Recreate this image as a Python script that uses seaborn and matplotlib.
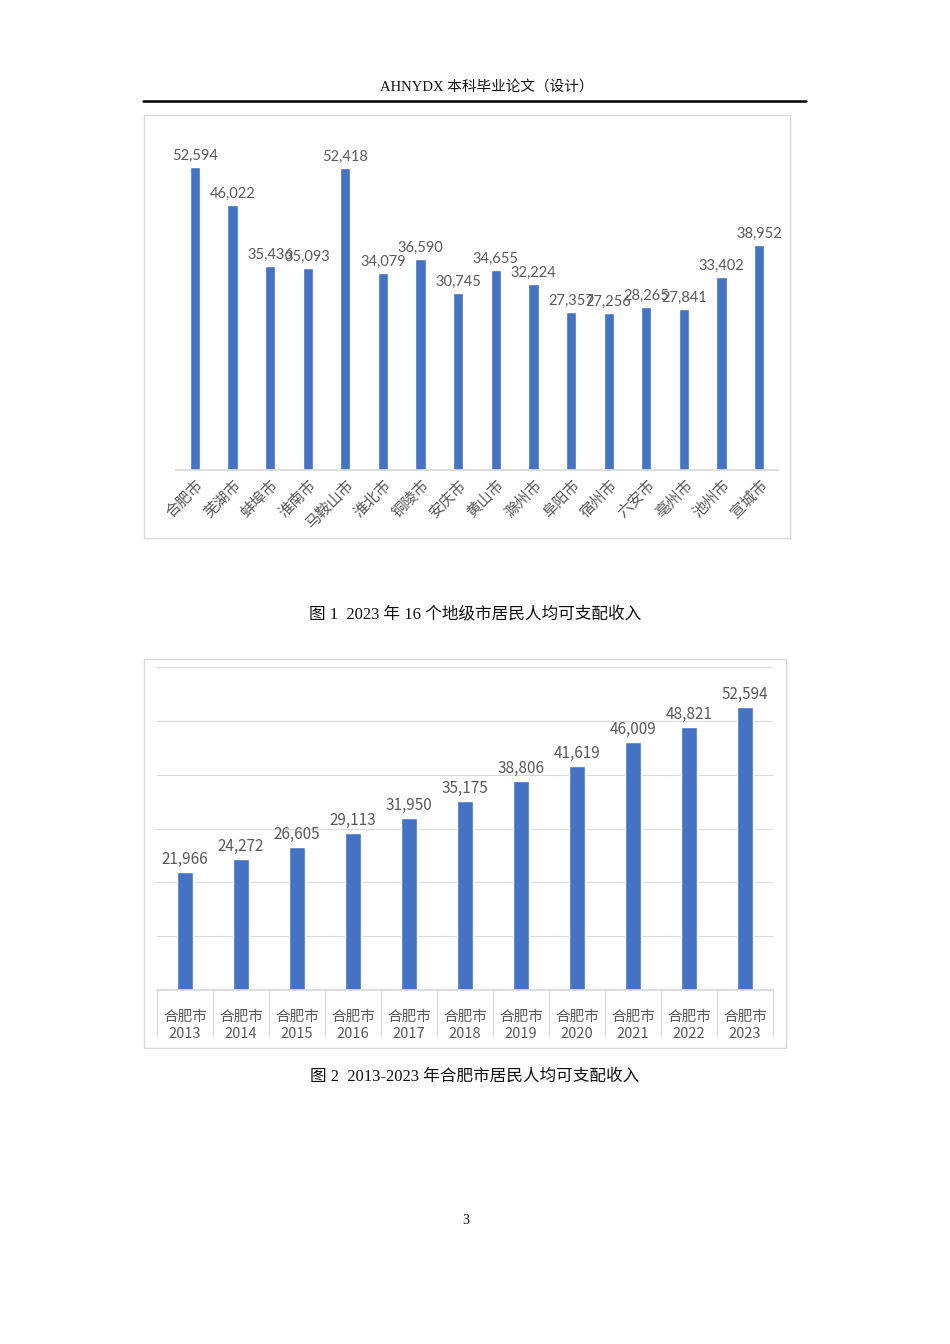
import pandas as pd
import matplotlib.pyplot as plt
import matplotlib.patches as mpatches
import seaborn as sns

# data
cities = ['合肥市', '芜湖市', '蚌埠市', '淮南市', '马鞍山市', '淮北市', '铜陵市', '安庆市',
          '黄山市', '滁州市', '阜阳市', '宿州市', '六安市', '亳州市', '池州市', '宣城市']
income_2023 = [52594, 46022, 35436, 35093, 52418, 34079, 36590, 30745,
               34655, 32224, 27357, 27256, 28265, 27841, 33402, 38952]
years = ['2013', '2014', '2015', '2016', '2017', '2018', '2019', '2020', '2021', '2022', '2023']
hefei_income = [21966, 24272, 26605, 29113, 31950, 35175, 38806, 41619, 46009, 48821, 52594]

sns.set_theme(style='white')
plt.rcParams['font.family'] = ['Noto Sans CJK SC', 'DejaVu Sans']

W, H = 950, 1344
BLUE = '#4472C4'
GRAY = '#595959'
LINE = '#D9D9D9'
serif = ['Liberation Serif', 'Noto Sans CJK SC']

fig = plt.figure(figsize=(9.5, 13.44), dpi=100)
fig.patch.set_facecolor('white')


def fx(px):
    return px / W


def fy(py):
    return 1 - py / H


# page header
fig.text(fx(487), fy(88), 'AHNYDX 本科毕业论文（设计）', family=serif, fontsize=10.5,
         ha='center', va='center', color='#111111')
fig.add_artist(plt.Line2D([fx(143), fx(806)], [fy(101), fy(101)], color='black', lw=1.8))

# chart frames
for (x0, y0, x1, y1) in [(144, 115, 790, 538), (144, 659, 786, 1048)]:
    fig.add_artist(mpatches.Rectangle((fx(x0), fy(y1)), fx(x1 - x0), (y1 - y0) / H,
                                      transform=fig.transFigure, fill=False,
                                      edgecolor=LINE, lw=1))

# -------------------------------
# Figure 1 - 16 cities
# -------------------------------
df1 = pd.DataFrame({'city': cities, 'income': income_2023})
ax1 = fig.add_axes([fx(176), fy(470), fx(778 - 176), (470 - 124) / H])
sns.barplot(data=df1, x='city', y='income', color=BLUE, width=0.27, saturation=1, ax=ax1)
ax1.set_ylim(0, 60000)
ax1.set_xlim(-0.5, len(cities) - 0.5)
ax1.bar_label(ax1.containers[0], labels=[f'{v:,}' for v in income_2023],
              padding=3, fontsize=10.5, color=GRAY, family=['Lato', 'DejaVu Sans'])
ax1.set_xlabel('')
ax1.set_ylabel('')
ax1.set_yticks([])
for s in ['top', 'left', 'right']:
    ax1.spines[s].set_visible(False)
ax1.spines['bottom'].set_color(LINE)
ax1.tick_params(axis='x', length=0, pad=5)
plt.setp(ax1.get_xticklabels(), rotation=45, ha='right', rotation_mode='anchor',
         fontsize=11, color=GRAY)
ax1.set_facecolor('none')

fig.text(fx(475), fy(614), '图 1  2023 年 16 个地级市居民人均可支配收入', family=serif,
         fontsize=12, ha='center', va='center', color='#111111')

# -------------------------------
# Figure 2 - Hefei 2013-2023
# -------------------------------
df2 = pd.DataFrame({'year': years, 'income': hefei_income})
ax2 = fig.add_axes([fx(157), fy(990), fx(773 - 157), (990 - 667) / H])
sns.barplot(data=df2, x='year', y='income', color=BLUE, width=0.29, saturation=1, ax=ax2)
ax2.set_ylim(0, 60000)
ax2.set_xlim(-0.5, len(years) - 0.5)
ax2.set_yticks(range(0, 60001, 10000))
ax2.yaxis.grid(True, color=LINE, lw=0.8)
ax2.set_axisbelow(True)
ax2.set_yticklabels([])
ax2.tick_params(axis='y', length=0)
ax2.bar_label(ax2.containers[0], labels=[f'{v:,}' for v in hefei_income],
              padding=3, fontsize=11, color=GRAY)
ax2.set_xlabel('')
ax2.set_ylabel('')
for s in ['top', 'left', 'right']:
    ax2.spines[s].set_visible(False)
ax2.spines['bottom'].set_color(LINE)
ax2.set_xticks(range(len(years)))
ax2.set_xticklabels([f'合肥市\n{y}' for y in years], fontsize=10.5, color=GRAY,
                    linespacing=1.3)
ax2.tick_params(axis='x', length=0, pad=14)
# category separators below the axis
sep_len = (1036 - 990) / (990 - 667)
for i in range(len(years) + 1):
    ax2.plot([i - 0.5, i - 0.5], [0, -sep_len], color=LINE, lw=0.8,
             transform=ax2.get_xaxis_transform(), clip_on=False)
ax2.set_facecolor('none')

fig.text(fx(475), fy(1077), '图 2  2013-2023 年合肥市居民人均可支配收入', family=serif,
         fontsize=12, ha='center', va='center', color='#111111')

fig.text(fx(466), fy(1221), '3', family=serif, fontsize=10, ha='center', va='center',
         color='#111111')

fig.savefig('out.png', dpi=100, facecolor='white')
